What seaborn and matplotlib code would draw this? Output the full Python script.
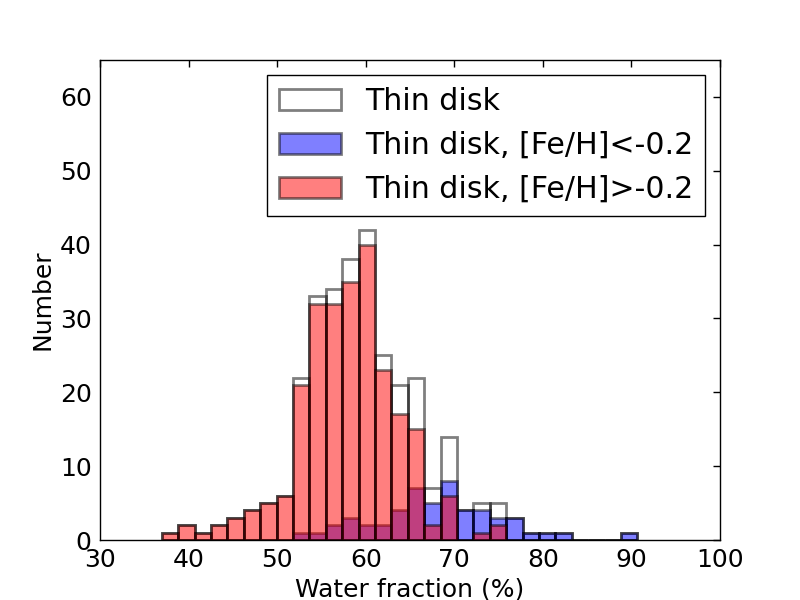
import numpy as np
import pandas as pd
import matplotlib
matplotlib.use("Agg")
import matplotlib.pyplot as plt
import seaborn as sns

# histogram bins (water fraction, %)
bin_start = 36.97
bin_width = 1.852
n_bins = 29

# counts per bin
thin_disk = [1, 2, 1, 2, 3, 4, 5, 6, 22, 33, 34, 38, 42, 25, 21, 22, 7, 14, 4, 5, 5, 3, 1, 1, 1, 0, 0, 0, 1]
metal_poor = [0, 0, 0, 0, 0, 0, 0, 0, 1, 1, 2, 3, 2, 2, 4, 7, 5, 8, 4, 4, 3, 3, 1, 1, 1, 0, 0, 0, 1]
metal_rich = [1, 2, 1, 2, 3, 4, 5, 6, 21, 32, 32, 35, 40, 23, 17, 15, 2, 6, 0, 1, 2, 0, 0, 0, 0, 0, 0, 0, 0]

labels = ["Thin disk", "Thin disk, [Fe/H]<-0.2", "Thin disk, [Fe/H]>-0.2"]

edges = list(bin_start + bin_width * np.arange(n_bins + 1))
centers = [e + bin_width / 2 for e in edges[:-1]]

df = pd.DataFrame({"water": centers, "all": thin_disk,
                   "poor": metal_poor, "rich": metal_rich})

sns.set_style("white")
plt.rcParams["font.family"] = ["DejaVu Sans"]
plt.rcParams["text.color"] = "black"
plt.rcParams["axes.labelcolor"] = "black"
plt.rcParams["xtick.color"] = "black"
plt.rcParams["ytick.color"] = "black"

fig, ax = plt.subplots(figsize=(8, 6), dpi=100)
fig.subplots_adjust(left=0.125, right=0.9, bottom=0.1, top=0.9)

sns.histplot(data=df, x="water", weights="all", bins=edges, fill=False,
             color="black", alpha=0.5, linewidth=2, label=labels[0], ax=ax)
sns.histplot(data=df, x="water", weights="poor", bins=edges, color="blue", alpha=0.5,
             edgecolor=(0, 0, 0, 0.5), linewidth=2, label=labels[1], ax=ax)
sns.histplot(data=df, x="water", weights="rich", bins=edges, color="red", alpha=0.5,
             edgecolor=(0, 0, 0, 0.5), linewidth=2, label=labels[2], ax=ax)

ax.set_xlim(30, 100)
ax.set_ylim(0, 65)
ax.set_xticks(np.arange(30, 101, 10))
ax.set_yticks(np.arange(0, 61, 10))
ax.set_xlabel("Water fraction (%)", fontsize=18)
ax.set_ylabel("Number", fontsize=18)
ax.tick_params(direction="in", top=True, right=True, length=5, width=1,
               labelsize=18, pad=6, colors="black")
for sp in ax.spines.values():
    sp.set_visible(True)
    sp.set_color("black")
    sp.set_linewidth(1)

leg = ax.legend(loc="upper right", fontsize=21.6, fancybox=False, framealpha=1,
                edgecolor="black", handlelength=2.05)
leg.get_frame().set_linewidth(1)

plt.savefig("out.png", dpi=100)
